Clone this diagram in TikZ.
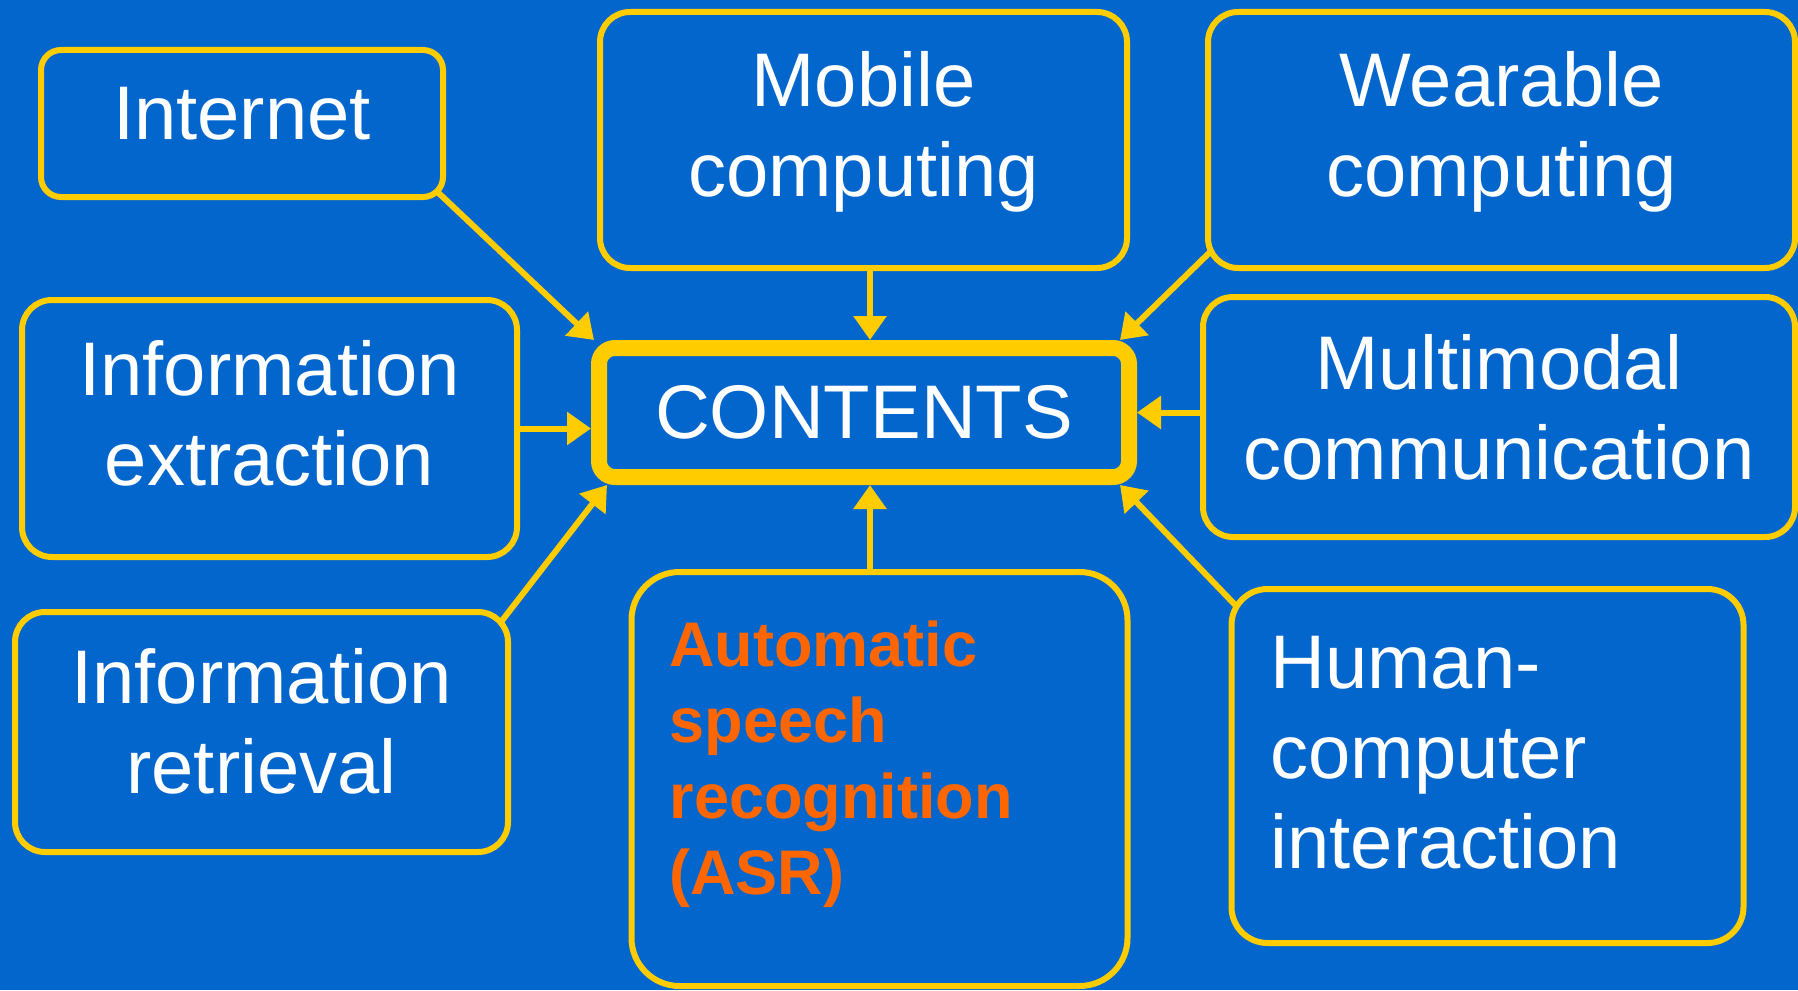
\documentclass[tikz,border=0pt]{standalone}
\usepackage{fontspec}
\setmainfont{Liberation Sans}
\usetikzlibrary{arrows.meta,backgrounds}
\definecolor{slideblue}{RGB}{3,102,204}
\definecolor{frameyellow}{RGB}{255,204,0}
\definecolor{asrorange}{RGB}{255,102,0}

\begin{document}
\begin{tikzpicture}[x=0.5pt,y=-0.5pt,
  topic/.style={draw=frameyellow,fill=slideblue,line width=3pt,rounded corners=15pt,
    text=white,align=center,font=\fontsize{38}{45}\selectfont,inner sep=0pt},
  feed/.style={draw=frameyellow,line width=3pt,-{Triangle[width=16pt,length=12pt]}}]
  \useasboundingbox (0,0) rectangle (1798,990);

  % Themen
  \node[topic,rounded corners=10pt,minimum width=201pt,minimum height=73.5pt,text depth=10pt] (inet) at (242,123.5) {Internet};
  \node[topic,minimum width=263.5pt,minimum height=128pt,text depth=16pt] (mobile) at (863.5,140) {Mobile\\computing};
  \node[topic,minimum width=293.5pt,minimum height=128pt,text depth=16pt] (wear) at (1501.5,140) {Wearable\\computing};
  \node[topic,minimum width=247.5pt,minimum height=128.5pt,text depth=16pt] (iext) at (269.5,428.5) {Information\\extraction};
  \node[topic,minimum width=296pt,minimum height=120pt,text depth=10pt] (multi) at (1499,417) {Multimodal\\communication};
  \node[topic,minimum width=246.5pt,minimum height=120pt,text depth=11pt] (iret) at (261.5,732) {Information\\retrieval};
  \node[topic,rounded corners=24pt,align=left,text=asrorange,font=\fontsize{31.5}{38}\selectfont\bfseries,
    text width=210pt,inner xsep=19pt,minimum height=207pt,text depth=135.5pt] (asr) at (879.5,779) {Automatic\\speech\\recognition\\(ASR)};
  \node[topic,rounded corners=18pt,align=left,text width=217pt,inner xsep=19.5pt,minimum height=177pt,text depth=103.5pt] (hci) at (1487.5,766) {Human-\\computer\\interaction};

  % Mitte
  \node[topic,line width=8pt,rounded corners=8pt,minimum width=265pt,minimum height=64.5pt] (cont) at (864,412.5) {CONTENTS};

  % Pfeile
  \coordinate (axis) at (870,0);
  \begin{scope}[on background layer]
    \fill[slideblue] (0,0) rectangle (1798,990);
    \draw[feed,shorten <=-8pt] (inet.south east) -- ([xshift=1.5pt]cont.north west);
    \draw[feed] (mobile.south -| axis) -- (cont.north -| axis);
    \draw[feed,shorten <=-8pt] ([yshift=7pt]wear.south west) -- ([xshift=-8.5pt]cont.north east);
    \draw[feed] (iext.east) -- (iext.east -| cont.west);
    \draw[feed] (multi.west |- cont.east) -- (cont.east);
    \draw[feed,shorten <=-8pt] (iret.north east) -- ([xshift=8pt]cont.south west);
    \draw[feed] (asr.north -| axis) -- (cont.south -| axis);
    \draw[feed,shorten <=-8pt] ([yshift=-6pt]hci.north west) -- ([xshift=-8.5pt]cont.south east);
  \end{scope}
\end{tikzpicture}
\end{document}
